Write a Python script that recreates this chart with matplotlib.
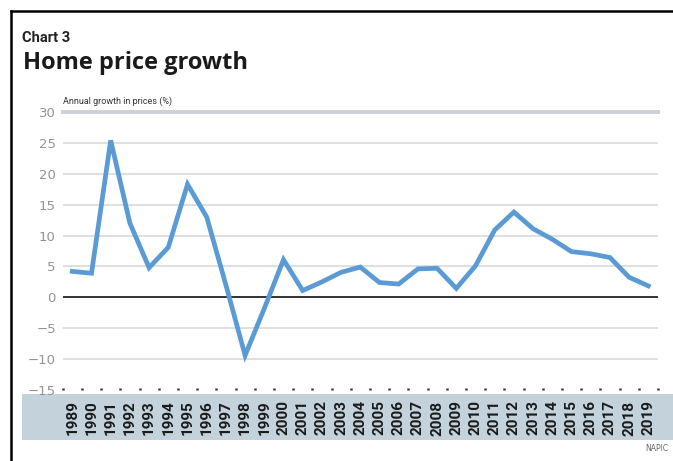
import matplotlib
matplotlib.use("Agg")
from matplotlib import pyplot as plt
from matplotlib.patches import Rectangle
from matplotlib.lines import Line2D
import numpy as np

years = list(range(1989, 2020))
growth = [4.2, 3.9, 25.4, 12.0, 4.8, 8.1, 18.3, 13.0, 2.0, -9.4,
          -1.8, 6.1, 1.1, 2.5, 4.05, 4.9, 2.4, 2.15, 4.6, 4.7,
          1.45, 5.1, 10.9, 13.8, 11.1, 9.4, 7.4, 7.05, 6.45, 3.25, 1.85]
yticks = [-15, -10, -5, 0, 5, 10, 15, 20, 25, 30]

W, H = 673, 461
narrow = ["Roboto", "DejaVu Sans"]

fig = plt.figure(figsize=(W / 100, H / 100), dpi=100)

def fx(px):
    return px / W

def fy(py):
    return 1 - py / H

# grey band behind year labels
fig.add_artist(Rectangle((fx(22), fy(440)), fx(673 - 22), (440 - 394) / H,
                         transform=fig.transFigure, facecolor="#c4d2db",
                         edgecolor="none", zorder=0))

# frame lines (left and top)
fig.add_artist(Line2D([fx(11), fx(11)], [fy(11), 0], transform=fig.transFigure,
                      color="black", lw=1.8))
fig.add_artist(Line2D([fx(11), 1], [fy(11), fy(11)], transform=fig.transFigure,
                      color="black", lw=1.8))

ax = fig.add_axes([fx(62.7), fy(390), fx(657.9 - 62.7), (390 - 112) / H])
ax.set_facecolor("none")

for v in yticks[1:-1]:
    if v == 0:
        continue
    ax.axhline(v, color="#dcdcdc", lw=1.3, zorder=1)
ax.axhline(30, color="#cdd1d5", lw=2.8, zorder=1, clip_on=False)
ax.axhline(0, color="#222222", lw=1.3, zorder=2)

ax.plot(years, growth, color="#5b9bd5", lw=3.4, solid_joinstyle="miter", zorder=3)

ax.set_xlim(1988.5, 2019.5)
ax.set_ylim(-15, 30)
ax.set_yticks(yticks)
ax.set_yticklabels([str(v).replace("-", "\u2212") for v in yticks])
ax.set_xticks(years)
ax.set_xticklabels([str(y) for y in years], rotation=90, fontweight="bold",
                   fontsize=11, family=narrow, color="#1a1a1a", va="top")
ax.set_xticks(np.arange(1988.5, 2020, 1), minor=True)
ax.tick_params(axis="x", which="major", length=0, pad=7.5)
ax.tick_params(axis="x", which="minor", length=1.8, width=1.8, color="#333333",
               direction="in")
ax.tick_params(axis="y", length=0, pad=5, labelsize=9.5, labelcolor="#939393")
for s in ax.spines.values():
    s.set_visible(False)

ax.text(1988.5, 30.9, "Annual growth in prices (%)", fontsize=6.5, family=narrow,
        color="#333333", va="bottom", ha="left")

fig.text(fx(22), fy(42), "Chart 3", fontsize=10.5, family=narrow, fontweight="bold",
         color="#222222", va="baseline")
fig.text(fx(23), fy(69), "Home price growth", fontsize=17, family=["Open Sans", "DejaVu Sans"],
         fontweight="bold", color="#1a1a1a", va="baseline")
fig.text(fx(668), fy(451), "NAPIC", fontsize=5.5, color="#666666", va="baseline",
         ha="right")

fig.savefig("out.png", dpi=100)
